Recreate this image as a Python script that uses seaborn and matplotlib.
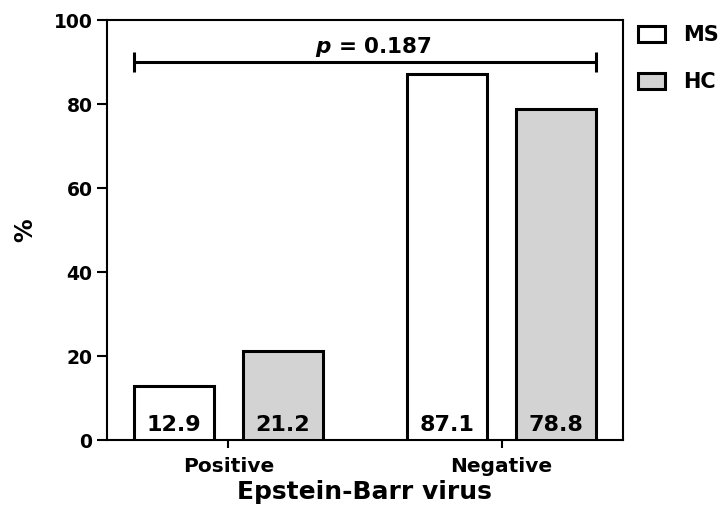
import matplotlib
matplotlib.use("Agg")
import matplotlib.pyplot as plt
from matplotlib.patches import Patch
import seaborn as sns
import pandas as pd

# ---- data ----
categories = ["Positive", "Negative"]
groups = ["MS", "HC"]
ms_values = [12.9, 87.1]
hc_values = [21.2, 78.8]
p_text_value = "0.187"
y_ticks = [0, 20, 40, 60, 80, 100]
x_label = "Epstein-Barr virus"
y_label = "%"

df = pd.DataFrame({
    "category": categories * 2,
    "group": [groups[0]] * len(categories) + [groups[1]] * len(categories),
    "value": ms_values + hc_values,
})

sns.set_style("ticks")
plt.rcParams["font.family"] = ["DejaVu Sans"]
plt.rcParams["font.weight"] = "bold"
plt.rcParams["mathtext.fontset"] = "custom"
plt.rcParams["mathtext.it"] = "DejaVu Sans:italic:bold"
plt.rcParams["mathtext.rm"] = "DejaVu Sans:bold"
for k in ["text.color", "axes.labelcolor", "xtick.color", "ytick.color",
          "xtick.labelcolor", "ytick.labelcolor", "axes.edgecolor"]:
    plt.rcParams[k] = "black"

palette = {"MS": "white", "HC": "#d3d3d3"}

fig = plt.figure(figsize=(7.26, 5.11), dpi=100)
ax = fig.add_axes([107 / 726, 1 - 440 / 511, (622.7 - 107) / 726, 420 / 511])

sns.barplot(data=df, x="category", y="value", hue="group", order=categories,
            hue_order=groups, palette=palette, width=0.8, gap=0.268,
            edgecolor="black", linewidth=2.2, legend=False, ax=ax, zorder=3)

# value labels inside bars near the bottom
for cont in ax.containers:
    for bar in cont:
        ax.text(bar.get_x() + bar.get_width() / 2, 2.1, f"{bar.get_height():.1f}",
                ha="center", va="baseline", fontsize=16, fontweight="bold",
                color="black", zorder=5)

ax.set_xlim(-0.444, 1.443)
ax.set_ylim(0, 100)
ax.set_yticks(y_ticks)

# significance bar
x0, x1, yb, cap = -0.347, 1.347, 90, 2.4
ax.plot([x0, x1], [yb, yb], color="black", lw=2.2, solid_capstyle="butt", zorder=4)
ax.plot([x0, x0], [yb - cap, yb + cap], color="black", lw=2.2, solid_capstyle="butt", zorder=4)
ax.plot([x1, x1], [yb - cap, yb + cap], color="black", lw=2.2, solid_capstyle="butt", zorder=4)
ax.text(0.53, 92.1, r"$p$ = " + p_text_value, ha="center", va="baseline",
        fontsize=15.5, fontweight="bold", color="black")

for s in ax.spines.values():
    s.set_visible(True)
    s.set_linewidth(1.5)
    s.set_color("black")

ax.tick_params(axis="y", length=7, width=1.5, pad=3.5, labelsize=13.5, color="black",
               labelcolor="black")
ax.tick_params(axis="x", length=6, width=1.5, pad=6, labelsize=14.5, color="black",
               labelcolor="black")
for lab in ax.get_xticklabels() + ax.get_yticklabels():
    lab.set_fontweight("bold")

ax.set_xlabel(x_label, fontsize=18, fontweight="bold", labelpad=3, color="black")
ax.set_ylabel(y_label, fontsize=17, fontweight="bold", labelpad=12, color="black")

handles = [Patch(facecolor=palette[g], edgecolor="black", linewidth=2.2) for g in groups]
fig.legend(handles, groups, loc="upper left", bbox_to_anchor=(638 / 726, 1 - 25 / 511),
           frameon=False, borderpad=0, borderaxespad=0, handlelength=1.3,
           handleheight=0.77, handletextpad=0.85, labelspacing=1.3,
           prop={"size": 15, "weight": "bold"}, labelcolor="black")

fig.savefig("out.png", dpi=100)
